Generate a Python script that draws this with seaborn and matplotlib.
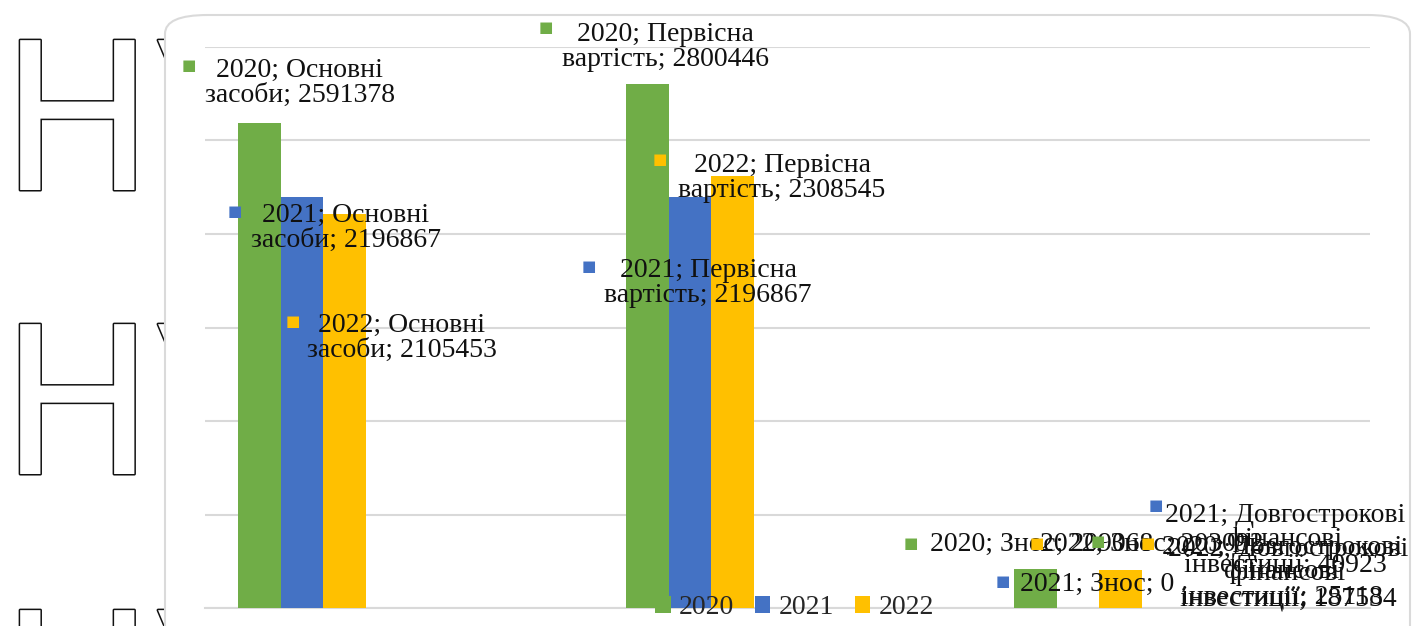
import numpy as np
import pandas as pd
import matplotlib
matplotlib.use("Agg")
import matplotlib.pyplot as plt
import matplotlib.patheffects as pe
from matplotlib.patches import FancyBboxPatch
import seaborn as sns

# ── Data ────────────────────────────────────────────────────────────────────
YEARS      = ["2020", "2021", "2022"]
CATEGORIES = ["Основні засоби", "Первісна вартість", "Знос",
              "Довгострокові фінансові інвестиції"]
# label wrapping as in the source chart
CAT_WRAPPED = ["Основні\nзасоби", "Первісна\nвартість", "Знос",
               "Довгострокові\nфінансові\nінвестиції"]
VALUES_2020 = [2591378, 2800446, 209068, 25118]
VALUES_2021 = [2196867, 2196867, 0, 40923]
VALUES_2022 = [2105453, 2308545, 203092, 187534]
COLORS = ["#70AD47", "#4472C4", "#FFC000"]

W, H = 1421, 626

rows = []
for year, vals in zip(YEARS, [VALUES_2020, VALUES_2021, VALUES_2022]):
    for cat, v in zip(CATEGORIES, vals):
        rows.append({"category": cat, "year": year, "value": v})
df = pd.DataFrame(rows)

sns.set_style("white")
plt.rcParams["font.family"] = ["Liberation Serif", "DejaVu Serif"]

fig = plt.figure(figsize=(W / 100, H / 100), dpi=100)
fig.patch.set_facecolor("white")


def px(x, y):
    """pixel coords (top-left origin) -> figure fraction"""
    return x / W, 1 - y / H


# scanned page fragments on the left, partly hidden by the chart area
for ty in [190, 474, 760]:
    fig.text(*px(0, ty), "НУ", fontsize=148, family="DejaVu Sans",
             color="white", va="baseline", ha="left", zorder=0,
             path_effects=[pe.withStroke(linewidth=2.2, foreground="#111111")])

# chart area with rounded frame
chart_area = FancyBboxPatch(px(165, 660), (1410 - 165) / W, (660 - 15) / H,
                            boxstyle="round,pad=0,rounding_size=0.03",
                            transform=fig.transFigure, facecolor="white",
                            edgecolor="#DADADA", linewidth=1.5, zorder=1)
fig.patches.append(chart_area)

ax = fig.add_axes([205 / W, 1 - 608 / H, (1370 - 205) / W, (608 - 47) / H])
ax.set_zorder(2)
ax.patch.set_alpha(0)

sns.barplot(data=df, x="category", y="value", hue="year", order=CATEGORIES,
            hue_order=YEARS, palette=COLORS, width=0.33, saturation=1,
            linewidth=0, ax=ax, zorder=3)

ax.set_xlim(-0.25, 2.753)
ax.set_ylim(0, 3000000)
ax.set_yticks(np.arange(0, 3000001, 500000))
ax.yaxis.grid(True, color="#D9D9D9", linewidth=1.5)
ax.set_axisbelow(True)
ax.set_xticks([])
ax.set_yticklabels([])
ax.tick_params(left=False, bottom=False)
ax.set_xlabel("")
ax.set_ylabel("")
for s in ["top", "right", "left"]:
    ax.spines[s].set_visible(False)
ax.spines["bottom"].set_color("#D9D9D9")
ax.spines["bottom"].set_linewidth(1.5)

sns.move_legend(ax, "center", bbox_to_anchor=(0.506, 0.0), ncol=3,
                frameon=False, title=None, fontsize=20, handlelength=0.55,
                handleheight=0.55, handletextpad=0.3, columnspacing=0.75)

# ── Data labels (manually placed, as in the source) ─────────────────────────
# (year idx, category idx) -> (text x, text y, key x, key y, align)
label_pos = {
    (0, 0): (300, 83, 189, 66, "center"),
    (1, 0): (346, 228, 235, 212, "center"),
    (2, 0): (402, 338, 293, 322, "center"),
    (0, 1): (665, 47, 546, 28, "center"),
    (1, 1): (708, 283, 589, 266, "center"),
    (2, 1): (782, 178, 660, 160, "center"),
    (0, 2): (930, 544, 911, 543, "left"),
    (1, 2): (1020, 584, 1003, 581, "left"),
    (2, 2): (1040, 544, 1037, 543, "left"),
    (0, 3): (1282, 572, 1098, 541, "center"),
    (1, 3): (1285, 540, 1156, 505, "center"),
    (2, 3): (1288, 574, 1148, 543, "center"),
}
all_vals = [VALUES_2020, VALUES_2021, VALUES_2022]
for (yi, ci), (tx, ty, kx, ky, al) in label_pos.items():
    txt = f"{YEARS[yi]}; {CAT_WRAPPED[ci]}; {all_vals[yi][ci]}"
    fig.text(*px(tx, ty), txt, fontsize=20, ha=al, va="center",
             multialignment="center", linespacing=1.0, color="#111111",
             zorder=5)
    fig.text(*px(kx, ky), "■", fontsize=11, family="DejaVu Sans",
             color=COLORS[yi], ha="center", va="center", zorder=5)

fig.savefig("out.png", dpi=100)
